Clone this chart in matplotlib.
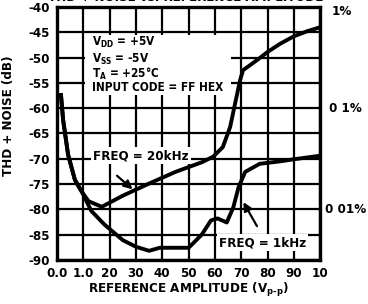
import numpy as np
import matplotlib
matplotlib.use('Agg')
import matplotlib.pyplot as plt
from matplotlib.patches import Rectangle
from matplotlib import font_manager

# look for a narrow sans face, else fall back to Liberation Sans
narrow = [f for f in font_manager.fontManager.ttflist
          if ('Narrow' in f.fname or 'Condensed' in f.fname) and 'Bold' in f.fname
          and 'Oblique' not in f.fname and 'Italic' not in f.fname]
if narrow:
    fam = narrow[0].name
    stretch = narrow[0].stretch
    fs = 9.5
else:
    fam = 'Liberation Sans'
    stretch = 'normal'
    fs = 9

plt.rcParams['font.family'] = [fam, 'DejaVu Sans']
plt.rcParams['font.stretch'] = stretch
plt.rcParams['font.weight'] = 'bold'
plt.rcParams['axes.labelweight'] = 'bold'
plt.rcParams['mathtext.default'] = 'regular'

# 20kHz curve (reference amplitude, THD+N dB)
amp_20k = [0.15, 0.23, 0.42, 0.68, 0.95, 1.2, 1.7, 2.5, 3.5, 4.5, 5.5, 5.93, 6.3, 6.58,
           6.77, 6.96, 7.07, 7.6, 8.0, 8.5, 9.0, 9.5, 10.0]
thd_20k = [-57.4, -62.3, -69.2, -74.2, -76.6, -78.4, -79.5, -77.3, -74.9, -72.6, -70.7,
           -69.6, -67.7, -63.7, -59.0, -54.4, -52.5, -50.5, -48.9, -47.2, -45.8, -44.8, -44.0]

# 1kHz curve
amp_1k = [0.15, 0.23, 0.42, 0.68, 0.95, 1.3, 1.8, 2.5, 3.0, 3.5, 3.9, 4.5, 5.0, 5.5,
          5.85, 6.1, 6.45, 6.7, 6.9, 7.15, 7.7, 8.5, 9.0, 10.0]
thd_1k = [-57.4, -62.3, -69.2, -74.2, -76.6, -80.3, -83.0, -86.1, -87.4, -88.2, -87.6,
          -87.6, -87.6, -85.0, -82.2, -81.8, -82.6, -79.6, -75.6, -72.6, -71.0, -70.5,
          -70.1, -69.4]

xticks = np.arange(0, 11)
xticklabels = ['0.0', '1.0', '20', '30', '40', '50', '60', '70', '80', '90', '10']
yticks = np.arange(-90, -39, 5)
right_labels = ['1%', '0 1%', '0 01%']
right_levels = [-40.8, -60, -80]
cond = ['V$_{DD}$ = +5V', 'V$_{SS}$ = -5V', 'T$_A$ = +25°C', 'INPUT CODE = FF HEX']
cond_levels = [-47.1, -50.3, -53.2, -56.0]

fig = plt.figure(figsize=(3.68, 3.04), dpi=100)
ax = fig.add_axes([0.155, 0.145, 0.715, 0.832])

ax.set_xlim(0, 10)
ax.set_ylim(-90, -40)
ax.set_xticks(xticks)
ax.set_xticklabels(xticklabels, fontsize=fs)
ax.set_yticks(yticks)
ax.set_yticklabels([str(v) for v in yticks], fontsize=fs)
ax.tick_params(length=0, pad=5)
ax.set_axisbelow(True)
ax.grid(True, color='black', linewidth=1.6)
for s in ax.spines.values():
    s.set_linewidth(2.4)

# white box behind the conditions text
ax.add_patch(Rectangle((1.06, -57.4), 5.55, 11.8, facecolor='white', edgecolor='none', zorder=1))

ax.plot(amp_20k, thd_20k, color='black', linewidth=2.8, zorder=3)
ax.plot(amp_1k, thd_1k, color='black', linewidth=2.8, zorder=3)

for t, lev in zip(cond, cond_levels):
    ax.text(1.33, lev, t, fontsize=fs - 1, va='center', ha='left', zorder=4)

bb = dict(facecolor='white', edgecolor='none', pad=1.5)
ax.text(3.2, -69.4, 'FREQ = 20kHz', fontsize=fs, ha='center', va='center',
        bbox=bb, zorder=4)
ax.annotate('', xy=(2.95, -76.4), xytext=(2.2, -73.0),
            arrowprops=dict(arrowstyle='-|>,head_length=0.5,head_width=0.25', color='black', lw=1.6),
            zorder=4)
ax.text(7.8, -86.6, 'FREQ = 1kHz', fontsize=fs, ha='center', va='center',
        bbox=bb, zorder=4)
ax.annotate('', xy=(7.03, -78.1), xytext=(7.65, -83.8),
            arrowprops=dict(arrowstyle='-|>,head_length=0.5,head_width=0.25', color='black', lw=1.6),
            zorder=4)

ax.set_ylabel('THD + NOISE (dB)', fontsize=fs)
ax.yaxis.set_label_coords(-0.16, 0.57)
ax.set_xlabel('REFERENCE AMPLITUDE (V$_{p\\text{-}p}$)', fontsize=fs)
ax.xaxis.set_label_coords(0.5, -0.085)

for lab, lev, dx in zip(right_labels, right_levels, [11.2, 11.6, 11.75]):
    ax.text(dx, lev, lab, fontsize=fs, ha='right', va='center', clip_on=False)

# title, cut off at the top edge of the scan
fig.text(0.505, 0.997, 'THD + NOISE vs. REFERENCE AMPLITUDE', fontsize=fs,
         ha='center', va='baseline')

fig.savefig('out.png', dpi=100)
